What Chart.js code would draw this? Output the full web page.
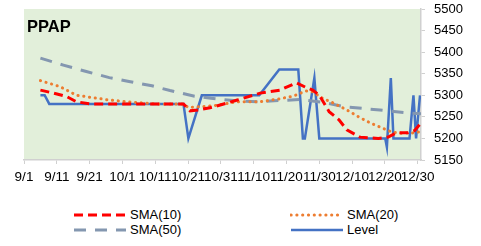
<!DOCTYPE html>
<html>
<head>
<meta charset="utf-8">
<script src="https://cdn.jsdelivr.net/npm/chart.js@4.4.0/dist/chart.umd.min.js"></script>
<style>
html, body { margin: 0; padding: 0; background: #fff; }
#wrap { position: relative; width: 481px; height: 246px; font-family: "Liberation Sans", Arial, sans-serif; }
#legend { position: absolute; left: 73px; top: 207px; display: grid; grid-template-columns: 217px 160px; font-size: 13px; color: #000; }
.item { display: flex; align-items: center; height: 15px; white-space: nowrap; }
.item svg { margin-right: 4px; }
</style>
</head>
<body>
<div id="wrap">
  <canvas id="chart" width="481" height="192"></canvas>
  <div id="legend"></div>
</div>
<script>
"use strict";
// x values are days counted from 9/1
const xTickDays = [0, 10, 20, 30, 40, 50, 60, 70, 80, 90, 100, 110, 120];
const xTickLabels = ['9/1', '9/11', '9/21', '10/1', '10/11', '10/21', '10/31', '11/10', '11/20', '11/30', '12/10', '12/20', '12/30'];

const levelDays = [5, 6.3, 7.7, 48.6, 50.1, 54.2, 71.7, 77.8, 83.6, 85, 85.6, 88.5, 90, 110.1, 110.6, 111.8, 112.6, 117.5, 118.7, 119.5, 120.7];
const levelValues = [5300, 5300, 5280, 5280, 5200, 5300, 5300, 5360, 5360, 5200, 5200, 5340, 5200, 5200, 5180, 5340, 5200, 5200, 5300, 5200, 5300];

const sma10Days = [5, 9, 13, 16, 20, 48.6, 50.6, 53, 56.7, 58.7, 65, 72, 78, 83, 86, 88, 90, 93, 96, 98.4, 102.4, 108, 111, 113.5, 117, 119, 120.7];
const sma10Values = [5312, 5305, 5297, 5285, 5280, 5280, 5264, 5266, 5271, 5275, 5289, 5305, 5312, 5329, 5318, 5312, 5300, 5262, 5243, 5220, 5203, 5200, 5203, 5213, 5213, 5218, 5233];

const sma20Days = [5, 11, 16, 26, 33, 40, 48.6, 50, 55, 59, 65, 72, 78, 82, 86, 88, 91, 94, 98.4, 102, 105.5, 109.5, 112, 115, 119, 121];
const sma20Values = [5334, 5320, 5300, 5289, 5284, 5280, 5280, 5272, 5274, 5277, 5285, 5285, 5292, 5298, 5310, 5308, 5293, 5283, 5266, 5250, 5236, 5223, 5215, 5212, 5213, 5216];

const sma50Days = [5, 12, 19, 26, 32, 39, 44.5, 52, 57, 65, 72, 78, 84, 91, 98, 108.5, 116, 121];
const sma50Values = [5386, 5370, 5355, 5341, 5332, 5322, 5311, 5298, 5293, 5287, 5285, 5288, 5290, 5284, 5273, 5266, 5260, 5257];

const yMin = 5150, yMax = 5500, yStep = 50;

function to_points (days, values) {
    return days.map((d, i) => ({x: d, y: values[i]}));
}

const AXIS_COLOR = '#D0D0D0';
const FONT = '"Liberation Sans", Arial, sans-serif';

// plot area fill + title inside it
const plot_bg = {
    id: 'plot_bg',
    beforeDraw (chart) {
        const a = chart.chartArea, c = chart.ctx;
        c.save();
        c.fillStyle = '#E2EFDA';
        c.fillRect(a.left, a.top, a.right - a.left, a.bottom - a.top);
        c.restore();
    },
    beforeDatasetsDraw (chart) {
        const a = chart.chartArea, c = chart.ctx;
        c.save();
        c.fillStyle = '#000';
        c.font = 'bold 16.5px ' + FONT;
        c.textBaseline = 'alphabetic';
        c.fillText('PPAP', a.left + 3, a.top + 23);
        c.restore();
    }
};

const datasets = [
    {label: 'SMA(10)', data: to_points(sma10Days, sma10Values), borderColor: '#FF0000', borderWidth: 3, borderDash: [9, 5]},
    {label: 'SMA(20)', data: to_points(sma20Days, sma20Values), borderColor: '#ED7D31', borderWidth: 3, borderDash: [0.2, 5.6], borderCapStyle: 'round'},
    {label: 'SMA(50)', data: to_points(sma50Days, sma50Values), borderColor: '#8497B0', borderWidth: 3, borderDash: [12, 9]},
    {label: 'Level', data: to_points(levelDays, levelValues), borderColor: '#4472C4', borderWidth: 2.5}
];

const ctx = document.getElementById('chart').getContext('2d');
const chart = new Chart(ctx, {
    type: 'line',
    data: {datasets: datasets},
    options: {
        responsive: false,
        animation: false,
        layout: {padding: {left: 24, right: 18, top: 9, bottom: 7}},
        elements: {point: {radius: 0}, line: {tension: 0, fill: false}},
        plugins: {legend: {display: false}, tooltip: {enabled: false}},
        scales: {
            x: {
                type: 'linear', min: 0, max: 121,
                afterBuildTicks: (axis) => { axis.ticks = xTickDays.map((v) => ({value: v})); },
                afterFit: (s) => { s.height = 25; s.paddingLeft = 0; s.paddingRight = 0; },
                ticks: {
                    autoSkip: false, maxRotation: 0, padding: 5, color: '#000',
                    font: {size: 13.5, family: FONT},
                    callback: (v) => xTickLabels[xTickDays.indexOf(v)]
                },
                grid: {drawOnChartArea: false, tickLength: 4, color: AXIS_COLOR},
                border: {color: AXIS_COLOR, width: 1.5}
            },
            y: {
                position: 'right', min: yMin, max: yMax,
                afterFit: (s) => { s.width = 42; s.paddingTop = 0; s.paddingBottom = 0; },
                ticks: {stepSize: yStep, padding: 9, color: '#000', font: {size: 13, family: FONT},
                    callback: (v) => String(v)},
                grid: {drawOnChartArea: false, tickLength: 4, color: AXIS_COLOR},
                border: {color: AXIS_COLOR, width: 1.5}
            }
        }
    },
    plugins: [plot_bg]
});

// legend, two columns, built from the datasets
const legend = document.getElementById('legend');
[0, 1, 2, 3].forEach((i) => {
    const ds = datasets[i];
    const dash = ds.borderDash ? ds.borderDash.join(' ') : 'none';
    const cap = ds.borderCapStyle || 'butt';
    const item = document.createElement('div');
    item.className = 'item';
    item.innerHTML = '<svg width="53" height="6"><line x1="1" y1="3" x2="53" y2="3" stroke="' + ds.borderColor +
        '" stroke-width="' + ds.borderWidth + '" stroke-dasharray="' + dash + '" stroke-linecap="' + cap + '"/></svg>' +
        '<span>' + ds.label + '</span>';
    legend.appendChild(item);
});
</script>
</body>
</html>
